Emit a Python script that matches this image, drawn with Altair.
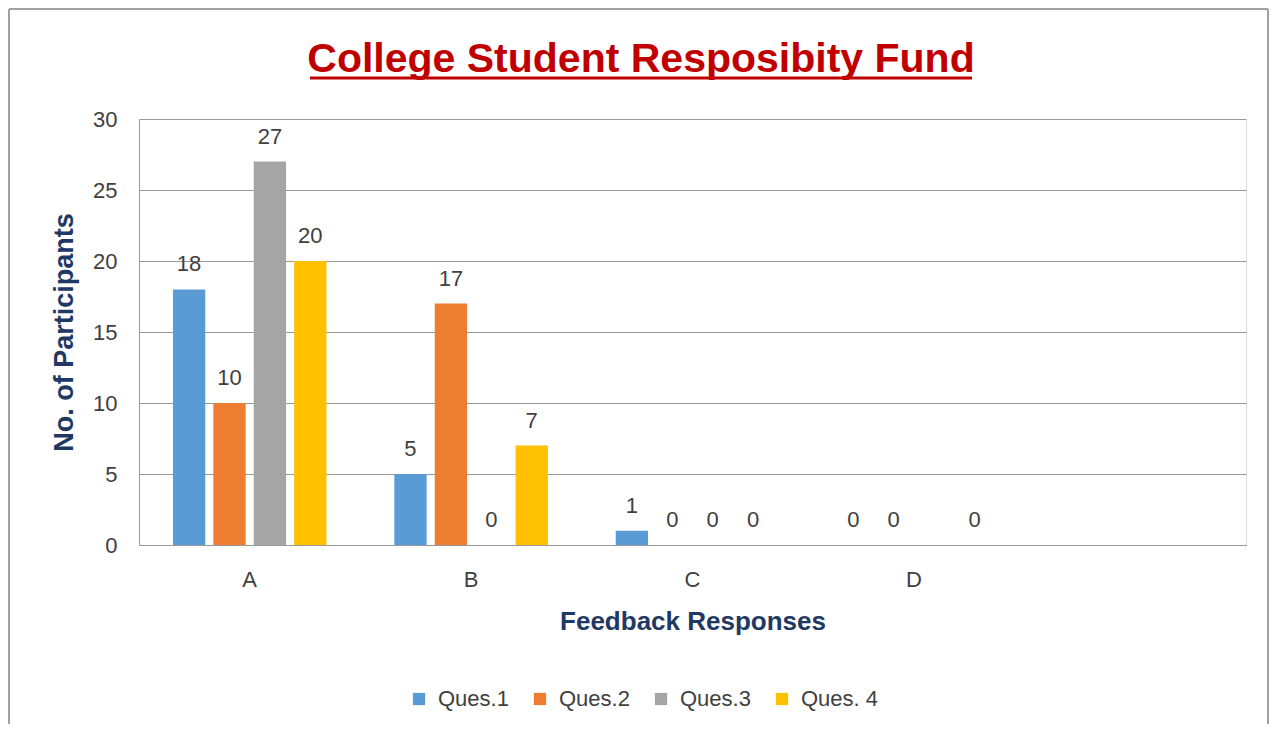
import altair as alt
import pandas as pd

categories = ["A", "B", "C", "D", " "]
series = ["Ques.1", "Ques.2", "Ques.3", "Ques. 4"]
q1 = [18, 5, 1, 0]
q2 = [10, 17, 0, 0]
q3 = [27, 0, 0, None]
q4 = [20, 7, 0, 0]
colors = ["#5B9BD5", "#ED7D31", "#A5A5A5", "#FFC000"]
y_ticks = [0, 5, 10, 15, 20, 25, 30]

title_text = "College Student Resposibity Fund"
FONT = "Liberation Sans"

rows = []
for s, vals in zip(series, [q1, q2, q3, q4]):
    for c, v in zip(categories[:4], vals):
        rows.append({"cat": c, "series": s, "value": v})
df = pd.DataFrame(rows)

W, H = 1107, 426

x_enc = alt.X(
    "cat:N",
    sort=categories,
    scale=alt.Scale(domain=categories, paddingInner=0.27, paddingOuter=0.135),
    axis=alt.Axis(
        title="Feedback Responses",
        labelAngle=0,
        ticks=False,
        domainColor="#999999",
        labelFontSize=22,
        labelColor="#404040",
        labelFont=FONT,
        labelPadding=24,
        titleFont=FONT,
        titleFontSize=26,
        titleFontWeight="bold",
        titleColor="#1F3864",
        titlePadding=18,
    ),
)
xoff = alt.XOffset("series:N", sort=series, scale=alt.Scale(domain=series, paddingInner=0.2, paddingOuter=0.1))
y_enc = alt.Y(
    "value:Q",
    scale=alt.Scale(domain=[0, 30]),
    axis=alt.Axis(
        values=y_ticks,
        title="No. of Participants",
        grid=True,
        gridColor="#999999",
        domainColor="#999999",
        ticks=False,
        labelFontSize=22,
        labelColor="#404040",
        labelFont=FONT,
        labelPadding=22,
        titleFont=FONT,
        titleFontSize=27,
        titleFontWeight="bold",
        titleColor="#1F3864",
        titlePadding=14,
    ),
)

base = alt.Chart(df).transform_filter("isValid(datum.value)")

bars = base.mark_bar().encode(
    x=x_enc,
    xOffset=xoff,
    y=y_enc,
    color=alt.Color(
        "series:N",
        sort=series,
        scale=alt.Scale(domain=series, range=colors),
        legend=alt.Legend(
            orient="none",
            legendX=269,
            legendY=569,
            direction="horizontal",
            title=None,
            symbolType="square",
            symbolSize=150,
            symbolStrokeWidth=0,
            labelFontSize=22,
            labelFont=FONT,
            labelColor="#404040",
            labelOffset=8,
            columnPadding=20,
        ),
    ),
)

labels = base.mark_text(
    baseline="alphabetic", dy=-18, fontSize=22, font=FONT, color="#404040"
).encode(
    x=x_enc,
    xOffset=xoff,
    y=y_enc,
    text=alt.Text("value:Q", format=".0f"),
)

deco = alt.Data(values=[{"k": 1}])
frame_style = dict(color="#A0A0A0", strokeWidth=2)

frame_left = alt.Chart(deco).mark_rule(**frame_style).encode(
    x=alt.value(-130), y=alt.value(-110), y2=alt.value(605)
)
frame_top = alt.Chart(deco).mark_rule(**frame_style).encode(
    x=alt.value(-130), x2=alt.value(1129), y=alt.value(-110)
)
frame_right = alt.Chart(deco).mark_rule(**frame_style).encode(
    x=alt.value(1129), y=alt.value(-110), y2=alt.value(605)
)

title = alt.Chart(deco).mark_text(
    text=title_text,
    fontSize=41,
    font=FONT,
    fontWeight="bold",
    color="#C00000",
    align="center",
    baseline="alphabetic",
).encode(x=alt.value(502), y=alt.value(-47))

underline = alt.Chart(deco).mark_rule(color="#C00000", strokeWidth=3).encode(
    x=alt.value(171), x2=alt.value(833), y=alt.value(-41)
)

chart = (
    alt.layer(frame_left, frame_top, frame_right, bars, labels, title, underline)
    .properties(width=W, height=H, padding=0)
    .configure_view(stroke=None)
    .configure(background="white")
)

chart.save("out.html", embed_options={"renderer": "svg", "actions": False})
